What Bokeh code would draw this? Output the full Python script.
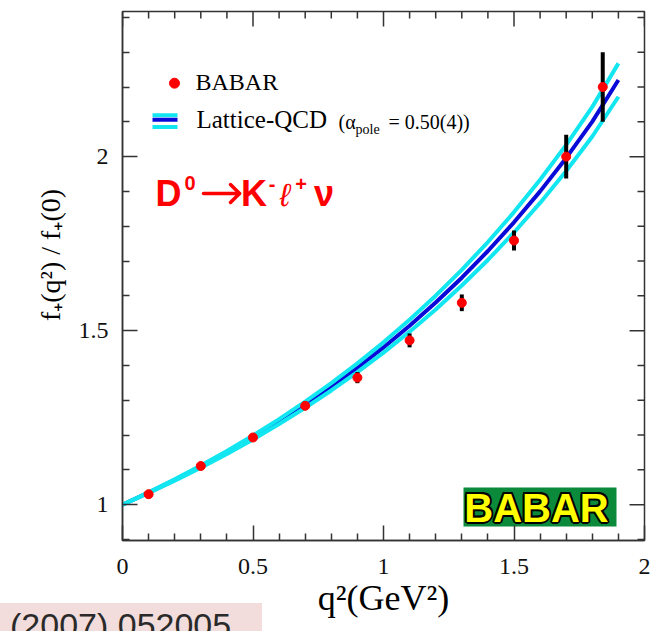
from bokeh.plotting import figure
from bokeh.models import Range1d, FixedTicker, Label, ColumnDataSource, Div
from bokeh.layouts import column
from bokeh.embed import file_html
from bokeh.resources import INLINE

# ---------------- data ----------------
q2_babar = [0.1, 0.3, 0.5, 0.7, 0.9, 1.1, 1.3, 1.5, 1.7, 1.84]
ratio_babar = [1.030, 1.111, 1.193, 1.284, 1.365, 1.472, 1.580, 1.759, 2.000, 2.200]
err_babar = [0.006, 0.008, 0.010, 0.012, 0.016, 0.020, 0.024, 0.029, 0.063, 0.100]

q2_lqcd = [0.0, 0.1, 0.2, 0.3, 0.4, 0.5, 0.6, 0.7, 0.8, 0.9,
           1.0, 1.1, 1.2, 1.3, 1.4, 1.5, 1.6, 1.7, 1.8, 1.9]
lqcd_central = [1.000, 1.0345, 1.0710, 1.1094, 1.1501, 1.1931, 1.2387, 1.2872, 1.3386, 1.3934,
                1.4517, 1.5141, 1.5807, 1.6521, 1.7288, 1.8113, 1.9002, 1.9963, 2.1004, 2.2200]
lqcd_upper = [1.000, 1.0354, 1.0730, 1.1125, 1.1544, 1.1988, 1.2459, 1.2960, 1.3492, 1.4059,
              1.4664, 1.5311, 1.6004, 1.6747, 1.7546, 1.8406, 1.9334, 2.0339, 2.1429, 2.2680]
lqcd_lower = [1.000, 1.0336, 1.0690, 1.1063, 1.1458, 1.1874, 1.2316, 1.2784, 1.3281, 1.3809,
              1.4370, 1.4971, 1.5610, 1.6296, 1.7031, 1.7820, 1.8670, 1.9587, 2.0579, 2.1720]

x_ticks = [0, 0.5, 1, 1.5, 2]
x_tick_labels = ["0", "0.5", "1", "1.5", "2"]
x_minor_ticks = [0.1, 0.2, 0.3, 0.4, 0.6, 0.7, 0.8, 0.9, 1.1, 1.2, 1.3, 1.4, 1.6, 1.7, 1.8, 1.9]
y_ticks = [1, 1.5, 2]
y_tick_labels = ["1", "1.5", "2"]
y_minor_ticks = [0.9, 1.1, 1.2, 1.3, 1.4, 1.6, 1.7, 1.8, 1.9, 2.1, 2.2, 2.3, 2.4]

# ---------------- figure ----------------
X0, X1 = 0.0, 2.0
Y0, Y1 = 0.897, 2.417
FL, FT, FW, FH = 122, 11, 522, 529   # frame position in canvas pixels
W, H = 652, 630

p = figure(width=W, height=H, x_range=Range1d(X0, X1), y_range=Range1d(Y0, Y1),
           output_backend="svg", toolbar_location=None,
           min_border_left=FL, min_border_right=W - FL - FW, min_border_top=FT,
           min_border_bottom=H - FT - FH)
p.xgrid.visible = False
p.ygrid.visible = False
p.outline_line_color = "#333333"
p.outline_line_width = 1.5
p.background_fill_color = "white"
p.border_fill_color = "white"

AX = "#333333"


def px(xp):
    return X0 + (xp - FL) * (X1 - X0) / FW


def py(yp):
    return Y0 + (FT + FH - yp) * (Y1 - Y0) / FH


def style_axis(ax, ticks, minor, labels, standoff):
    ax.ticker = FixedTicker(ticks=ticks, minor_ticks=minor)
    ax.major_tick_in = 15
    ax.major_tick_out = 0
    ax.minor_tick_in = 7
    ax.minor_tick_out = 0
    ax.major_tick_line_color = AX
    ax.minor_tick_line_color = AX
    ax.major_tick_line_width = 1.5
    ax.minor_tick_line_width = 1.5
    ax.axis_line_color = AX
    ax.axis_line_width = 1.5
    ax.major_label_overrides = {t: l for t, l in zip(ticks, labels)}
    ax.major_label_text_font = "Liberation Serif"
    ax.major_label_text_font_size = "24px"
    ax.major_label_text_color = "#111111"
    ax.major_label_standoff = standoff
    ax.axis_label_text_font = "Liberation Serif"
    ax.axis_label_text_font_style = "normal"
    ax.axis_label_text_color = "black"


style_axis(p.xaxis[0], x_ticks, x_minor_ticks, x_tick_labels, 18)
style_axis(p.yaxis[0], y_ticks, y_minor_ticks, y_tick_labels, 14)
p.xaxis[0].axis_label = "q\u00b2(GeV\u00b2)"
p.xaxis[0].axis_label_text_font_size = "36px"
p.xaxis[0].axis_label_standoff = 1
# leading no-break spaces move the visible title up along the axis, as in the original
p.yaxis[0].axis_label = "\u00a0" * 6 + "f\u208a(q\u00b2) / f\u208a(0)"
p.yaxis[0].axis_label_text_font_size = "28px"
p.yaxis[0].axis_label_standoff = 10

# ticks on the top and right edges of the frame
dy_maj = 15 * (Y1 - Y0) / FH
dy_min = 7 * (Y1 - Y0) / FH
dx_maj = 15 * (X1 - X0) / FW
dx_min = 7 * (X1 - X0) / FW
p.segment(x0=x_ticks, x1=x_ticks, y0=[Y1] * len(x_ticks), y1=[Y1 - dy_maj] * len(x_ticks),
          line_color=AX, line_width=1.5)
p.segment(x0=x_minor_ticks, x1=x_minor_ticks, y0=[Y1] * len(x_minor_ticks),
          y1=[Y1 - dy_min] * len(x_minor_ticks), line_color=AX, line_width=1.5)
p.segment(x0=[X1] * len(y_ticks), x1=[X1 - dx_maj] * len(y_ticks), y0=y_ticks, y1=y_ticks,
          line_color=AX, line_width=1.5)
p.segment(x0=[X1] * len(y_minor_ticks), x1=[X1 - dx_min] * len(y_minor_ticks),
          y0=y_minor_ticks, y1=y_minor_ticks, line_color=AX, line_width=1.5)

# ---------------- curves ----------------
BLUE = "#0a0ad8"
CYAN = "#12e6f0"
lq = ColumnDataSource(dict(x=q2_lqcd, c=lqcd_central, u=lqcd_upper, l=lqcd_lower))
p.line("x", "c", source=lq, line_color=BLUE, line_width=4)
p.line("x", "u", source=lq, line_color=CYAN, line_width=4)
p.line("x", "l", source=lq, line_color=CYAN, line_width=4)

# ---------------- data points ----------------
bb = ColumnDataSource(dict(
    x=q2_babar, y=ratio_babar,
    lo=[v - e for v, e in zip(ratio_babar, err_babar)],
    hi=[v + e for v, e in zip(ratio_babar, err_babar)]))
p.segment(x0="x", y0="lo", x1="x", y1="hi", source=bb, line_color="black", line_width=4)
p.scatter("x", "y", source=bb, size=9, fill_color="#ff0000", line_color="#ff0000")

# ---------------- legend ----------------
p.scatter([px(174)], [py(82.7)], size=10, fill_color="#ff0000", line_color="#ff0000")
p.segment(x0=[px(152)] * 3, x1=[px(177)] * 3, y0=[py(114.7), py(119.2), py(126.5)],
          y1=[py(114.7), py(119.2), py(126.5)], line_color=[CYAN, BLUE, CYAN], line_width=4)


def lab(xp, yp, text, size, font="Liberation Serif", color="black", style="normal",
        align="left", **kw):
    # yp is the wanted alphabetic baseline (canvas px); labels sit ~0.35em lower
    p.add_layout(Label(x=px(xp), y=py(yp - 0.35 * size), text=text, text_font=font,
                       text_font_size=f"{size}px", text_color=color, text_font_style=style,
                       text_align=align, text_baseline="alphabetic", **kw))


lab(195, 90, "BABAR", 24)
lab(196, 128, "Lattice-QCD", 25)
lab(338, 128, "(\u03b1", 20)
lab(355, 134, "pole", 14)
lab(388, 128, "= 0.50(4))", 20)

# ---------------- reaction label ----------------
RED = "#ff0000"
SANS = "Liberation Sans"
lab(168, 206, "D", 36, SANS, RED, "bold", "center")
lab(189.5, 189, "0", 20, SANS, RED, "bold", "center")
lab(253.5, 206, "K", 36, SANS, RED, "bold", "center")
lab(271.5, 190, "-", 20, SANS, RED, "bold", "center")
lab(284.5, 206, "\u2113", 32, SANS, RED, "italic", "center")
lab(300.5, 190, "+", 20, SANS, RED, "bold", "center")
lab(323.5, 206, "\u03bd", 36, SANS, RED, "bold", "center")
# arrow
p.segment(x0=[px(203), px(239), px(239)], x1=[px(238), px(230), px(230)],
          y0=[py(193), py(193), py(193)], y1=[py(193), py(184), py(202)],
          line_color=RED, line_width=3.5, line_cap="round")

# ---------------- BABAR logo ----------------
p.quad(left=[px(463)], right=[px(616)], top=[py(487)], bottom=[py(526)],
       fill_color="#0b8a3b", line_color=None)
for dx, dy in [(-2, 0), (2, 0), (0, -2), (0, 2), (-1.5, -1.5), (1.5, 1.5), (-1.5, 1.5), (1.5, -1.5)]:
    lab(536, 521, "BABAR", 40, SANS, "black", "bold", "center", x_offset=dx, y_offset=dy)
lab(536, 521, "BABAR", 40, SANS, "#ffff00", "bold", "center")

# ---------------- reference box (cropped at the bottom edge, as in the original) ----------------
ref_box = Div(text="(2007) 052005", width=262, height=28, margin=0,
              styles={"position": "absolute", "left": "0px", "top": "603px", "margin": "0px",
                      "background-color": "#f2dcdc", "color": "#2a2a2a",
                      "font-family": "Liberation Sans", "font-size": "34px",
                      "line-height": "40px", "padding-left": "10px", "padding-top": "2px",
                      "box-sizing": "border-box", "overflow": "hidden", "white-space": "nowrap",
                      "z-index": "5"})

layout = column(p, ref_box)
open("out.html", "w").write(file_html(layout, INLINE))
